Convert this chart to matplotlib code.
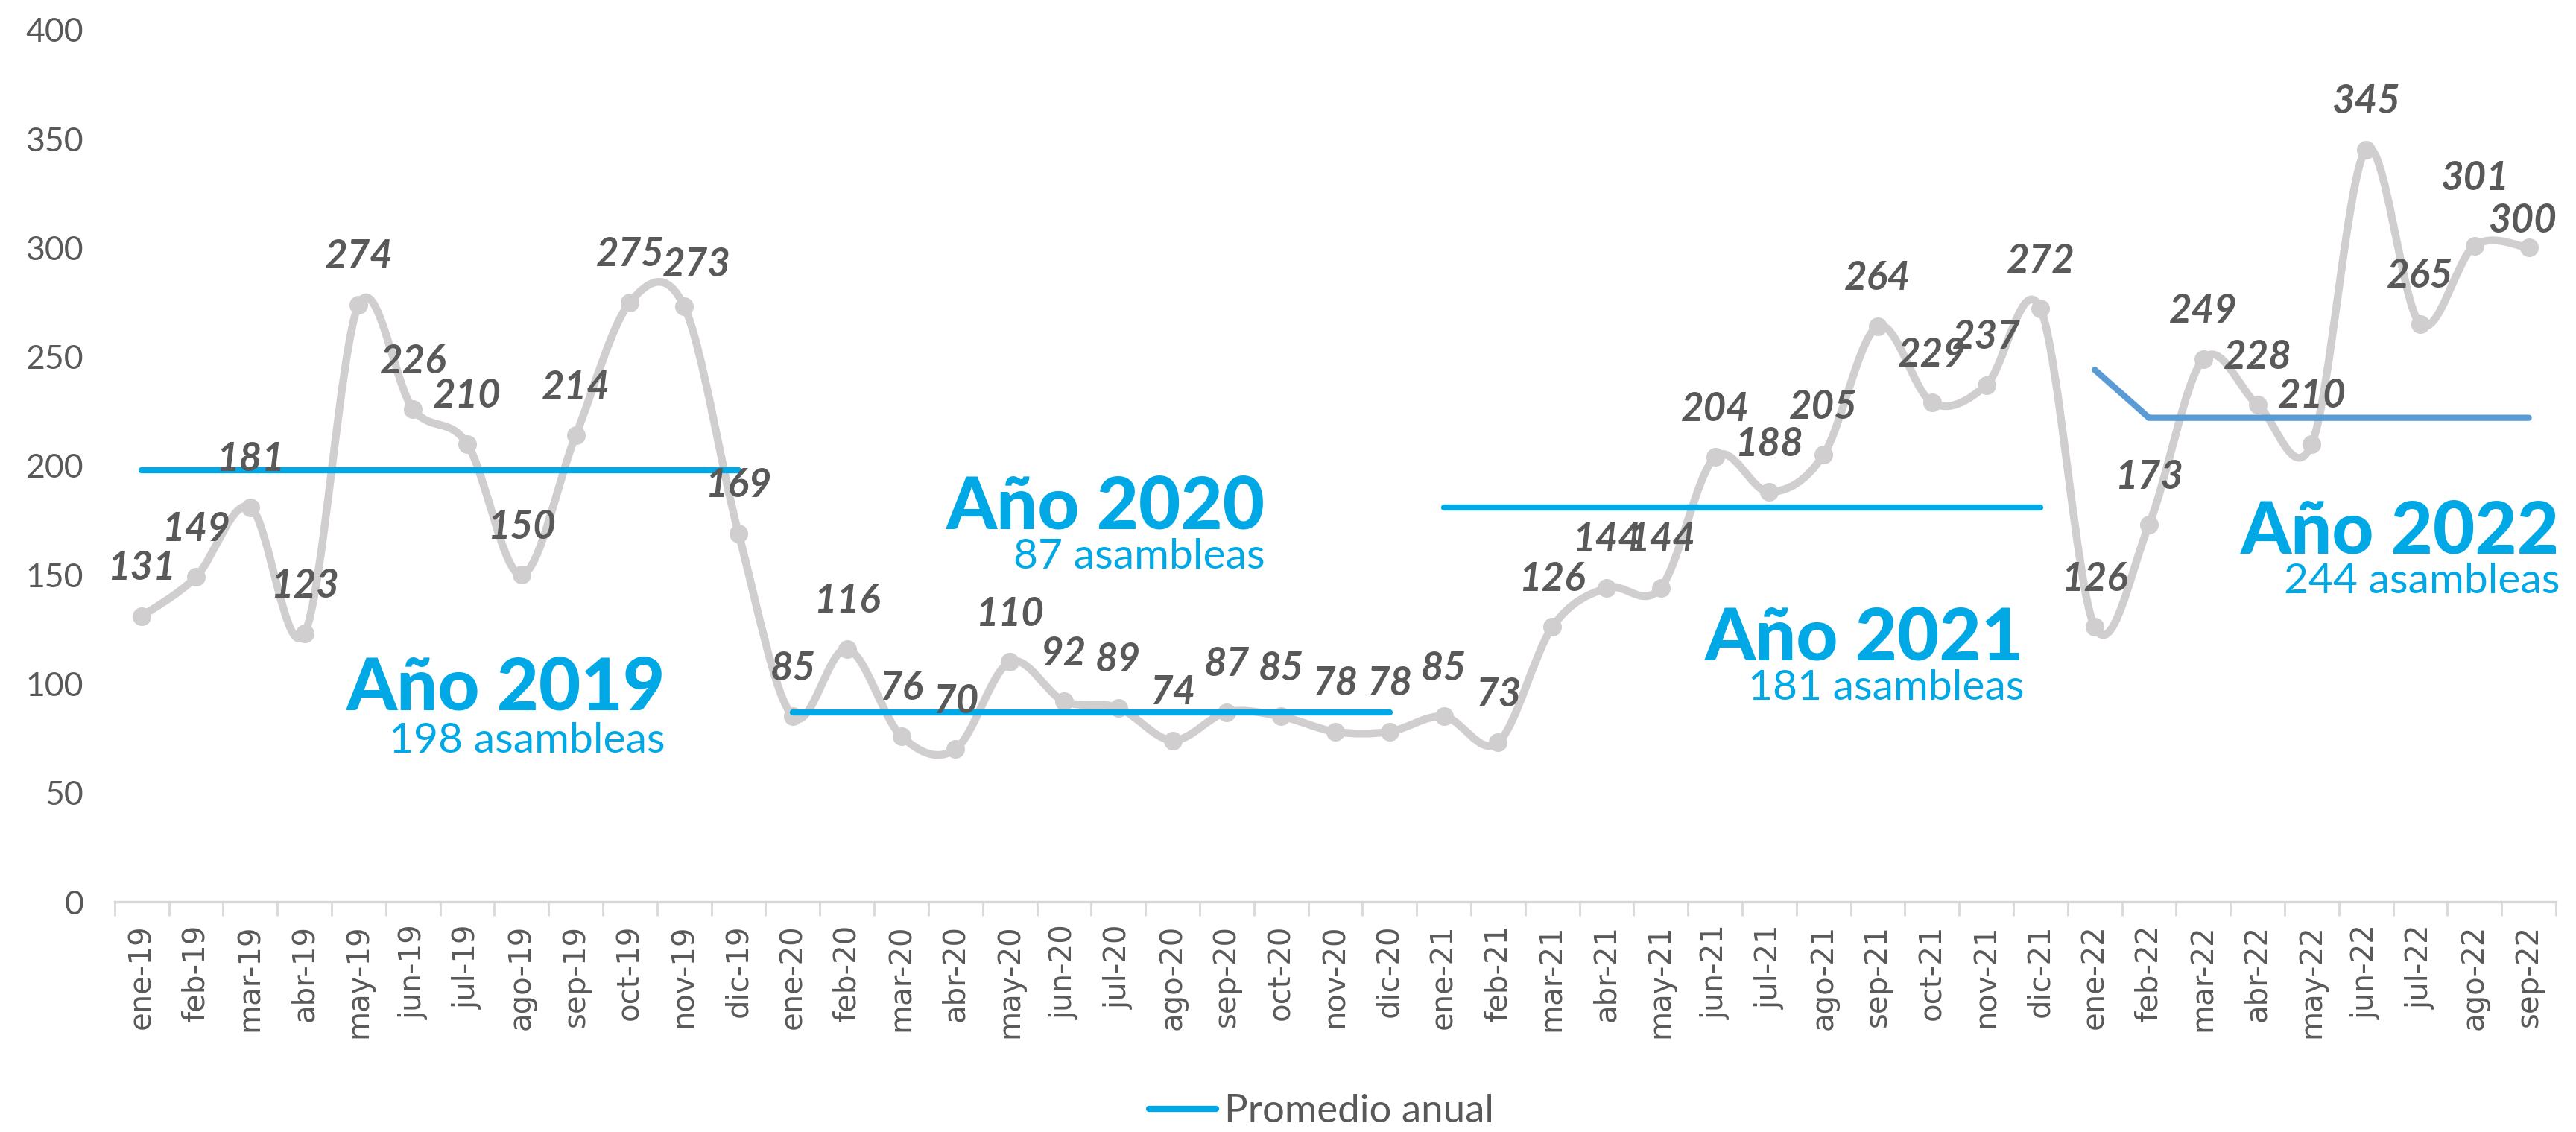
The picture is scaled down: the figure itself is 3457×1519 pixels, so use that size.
import numpy as np
import matplotlib
matplotlib.use("Agg")
import matplotlib.pyplot as plt
from matplotlib.path import Path
from matplotlib.patches import PathPatch
from matplotlib.lines import Line2D

# ---------------- data ----------------
months = ["ene", "feb", "mar", "abr", "may", "jun", "jul", "ago", "sep", "oct", "nov", "dic"]
labels = [f"{m}-{y}" for y in ["19", "20", "21"] for m in months] + [f"{m}-22" for m in months[:9]]

v2019 = [131, 149, 181, 123, 274, 226, 210, 150, 214, 275, 273, 169]
v2020 = [85, 116, 76, 70, 110, 92, 89, 74, 87, 85, 78, 78]
v2021 = [85, 73, 126, 144, 144, 204, 188, 205, 264, 229, 237, 272]
v2022 = [126, 173, 249, 228, 210, 345, 265, 301, 300]
values = v2019 + v2020 + v2021 + v2022

avg2019 = [198] * 12
avg2020 = [87] * 12
avg2021 = [181] * 12
avg2022 = [244] + [222] * 8

year_titles = ["Año 2019", "Año 2020", "Año 2021", "Año 2022"]
year_subs = ["198 asambleas", "87 asambleas", "181 asambleas", "244 asambleas"]
yticks = [0, 50, 100, 150, 200, 250, 300, 350, 400]

# ---------------- style ----------------
CYAN = "#00A9E6"
BLUE2 = "#5B9BD5"
GRAY = "#D0CECE"
TXT = "#595959"

fig = plt.figure(figsize=(34.57, 15.19), dpi=100)
ax = fig.add_axes([0.0445, 0.2034, 0.9477, 0.7703])

x = np.arange(len(values))
y = np.array(values, dtype=float)

# smooth (Excel-like) curve through the points
verts = [(x[0], y[0])]
codes = [Path.MOVETO]
n = len(x)
for i in range(n - 1):
    p0 = np.array([x[max(i - 1, 0)], y[max(i - 1, 0)]])
    p1 = np.array([x[i], y[i]])
    p2 = np.array([x[i + 1], y[i + 1]])
    p3 = np.array([x[min(i + 2, n - 1)], y[min(i + 2, n - 1)]])
    c1 = p1 + (p2 - p0) / 6.0
    c2 = p2 - (p3 - p1) / 6.0
    verts += [tuple(c1), tuple(c2), tuple(p2)]
    codes += [Path.CURVE4] * 3
ax.add_patch(PathPatch(Path(verts, codes), facecolor="none", edgecolor=GRAY,
                       lw=7.5, capstyle="round", joinstyle="round", zorder=2))
ax.plot(x, y, linestyle="none", marker="o", ms=17, color=GRAY, zorder=3)

# averages
ax.plot(np.arange(0, 12), avg2019, color=CYAN, lw=6, solid_capstyle="round", zorder=4)
ax.plot(np.arange(12, 24), avg2020, color=CYAN, lw=6, solid_capstyle="round", zorder=4)
ax.plot(np.arange(24, 36), avg2021, color=CYAN, lw=6, solid_capstyle="round", zorder=4)
ax.plot(np.arange(36, 45), avg2022, color=BLUE2, lw=6, solid_capstyle="round",
        solid_joinstyle="miter", zorder=4)

# data labels (above the points; a few nudged as in the original)
nudge = {10: (12, 40), 43: (0, 65), 44: (-6, 26)}
for i, (xi, yi) in enumerate(zip(x, values)):
    dx, dy = nudge.get(i, (0, 46))
    ax.annotate(str(yi), (xi, yi), xytext=(dx, dy), textcoords="offset points",
                ha="center", va="center", fontsize=38, fontweight="bold",
                fontstyle="italic", family="Lato", color=TXT, zorder=6)

# year annotations
title_pos = [(9.65, 88.2), (20.71, 171.0), (34.7, 110.8), (44.57, 159.7)]
sub_pos = [(9.65, 68.4), (20.71, 152.8), (34.7, 92.6), (44.57, 141.5)]
for t, p in zip(year_titles, title_pos):
    ax.text(p[0], p[1], t, ha="right", va="baseline", fontsize=70,
            fontweight="black", family="Lato", color=CYAN, zorder=7, clip_on=False)
for t, p in zip(year_subs, sub_pos):
    ax.text(p[0], p[1], t, ha="right", va="baseline", fontsize=41,
            family="Lato", color=CYAN, zorder=7, clip_on=False)

# axes
ax.set_xlim(-0.5, len(values) - 0.5)
ax.set_ylim(0, 400)
ax.set_yticks(yticks)
ax.set_yticklabels([str(v) for v in yticks], family="Lato", fontsize=32, color=TXT)
ax.tick_params(axis="y", length=0, pad=30)
ax.set_xticks(x)
ax.set_xticklabels(labels, rotation=90, family="DejaVu Sans", fontsize=29, color=TXT)
ax.set_xticks(np.arange(-0.5, len(values), 1.0), minor=True)
ax.tick_params(axis="x", which="major", length=0, pad=22)
ax.tick_params(axis="x", which="minor", length=14, width=2, color="#D9D9D9")
for s in ["left", "right", "top"]:
    ax.spines[s].set_visible(False)
ax.spines["bottom"].set_color("#D9D9D9")
ax.spines["bottom"].set_linewidth(2.5)
ax.grid(False)

handle = Line2D([0], [0], color=CYAN, lw=6, solid_capstyle="round")
leg = fig.legend([handle], ["Promedio anual"], loc="center", bbox_to_anchor=(0.513, 0.018),
                 frameon=False, handlelength=1.7, handletextpad=0.2,
                 prop={"family": "Lato", "size": 38})
for t in leg.get_texts():
    t.set_color(TXT)

fig.savefig("out.png", dpi=100)
